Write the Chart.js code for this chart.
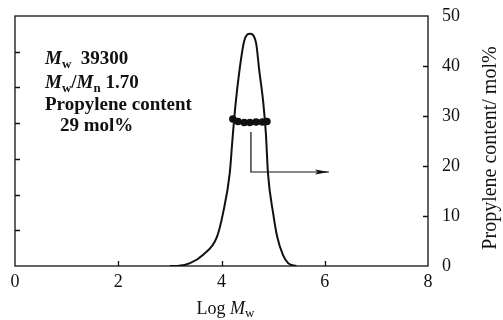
<!DOCTYPE html>
<html>
<head>
<meta charset="utf-8">
<script src="https://cdn.jsdelivr.net/npm/chart.js@4"></script>
<style>
  html, body { margin: 0; padding: 0; background: #fff; }
  #wrap { width: 503px; height: 320px; }
</style>
</head>
<body>
<div id="wrap"><canvas id="gpcChart" width="503" height="320"></canvas></div>
<script>
// GPC curve (log Mw, relative intensity on hidden left axis 0-7)
const logMw = [3.0, 3.14, 3.39, 3.64, 3.91, 4.03, 4.16, 4.21, 4.27, 4.35, 4.44, 4.55, 4.67, 4.73, 4.81, 4.86, 4.90, 5.0, 5.08, 5.19, 5.29, 5.45];
const gpcSignal = [0, 0.0, 0.08, 0.31, 0.81, 1.48, 2.6, 3.5, 4.5, 5.5, 6.3, 6.5, 6.24, 5.49, 4.56, 3.7, 2.6, 1.48, 0.81, 0.31, 0.08, 0];

// propylene content points (right axis, mol%)
const propLogMw = [4.22, 4.32, 4.44, 4.55, 4.67, 4.79, 4.88];
const propContent = [29.4, 28.9, 28.7, 28.7, 28.8, 28.8, 28.9];

// axes
const xTicks = [0, 2, 4, 6, 8];
const rightTicks = [0, 10, 20, 30, 40, 50];
const leftTicks = [0, 1, 2, 3, 4, 5, 6, 7];

// arrow pointing to right axis (log Mw / mol%)
const arrowPath = [[4.57, 26.8], [4.57, 18.8], [6.08, 18.8]];

const INK = '#111';
const SERIF = "'Liberation Serif', 'DejaVu Serif', serif";

function drawRuns(ctx, x, y, runs) {
  let cx = x;
  runs.forEach(r => {
    ctx.font = r.font;
    ctx.fillText(r.text, cx, y + (r.dy || 0));
    cx += ctx.measureText(r.text).width;
  });
  return cx;
}

function runsWidth(ctx, runs) {
  let w = 0;
  runs.forEach(r => { ctx.font = r.font; w += ctx.measureText(r.text).width; });
  return w;
}

const decorPlugin = {
  id: 'decor',
  afterDatasetsDraw(chart) {
    const ctx = chart.ctx;
    const a = chart.chartArea;
    const sx = chart.scales.x, sy = chart.scales.y, sy2 = chart.scales.y2;
    ctx.save();
    ctx.strokeStyle = INK;
    ctx.fillStyle = INK;
    ctx.lineWidth = 1.3;

    // frame
    ctx.strokeRect(a.left, a.top, a.right - a.left, a.bottom - a.top);

    // inward ticks
    ctx.beginPath();
    leftTicks.slice(1, -1).forEach(v => {
      const py = Math.round(sy.getPixelForValue(v)) + 0.5;
      ctx.moveTo(a.left, py); ctx.lineTo(a.left + 5, py);
    });
    xTicks.slice(1, -1).forEach(v => {
      const px = Math.round(sx.getPixelForValue(v)) + 0.5;
      ctx.moveTo(px, a.bottom); ctx.lineTo(px, a.bottom - 5);
    });
    rightTicks.slice(1, -1).forEach(v => {
      const py = Math.round(sy2.getPixelForValue(v)) + 0.5;
      ctx.moveTo(a.right, py); ctx.lineTo(a.right - 5, py);
    });
    ctx.stroke();

    // arrow
    ctx.lineWidth = 1.2;
    ctx.beginPath();
    arrowPath.forEach((p, i) => {
      const px = sx.getPixelForValue(p[0]);
      const py = sy2.getPixelForValue(p[1]);
      if (i === 0) ctx.moveTo(px, py); else ctx.lineTo(px, py);
    });
    ctx.stroke();
    const tip = arrowPath[arrowPath.length - 1];
    const tx = sx.getPixelForValue(tip[0]);
    const ty = sy2.getPixelForValue(tip[1]);
    ctx.beginPath();
    ctx.moveTo(tx, ty);
    ctx.lineTo(tx - 14, ty - 2.5);
    ctx.lineTo(tx - 11, ty);
    ctx.lineTo(tx - 14, ty + 2.5);
    ctx.closePath();
    ctx.fill();

    // annotation text
    ctx.textAlign = 'left';
    ctx.textBaseline = 'alphabetic';
    const big = 'bold 19px ' + SERIF;
    const bigIt = 'italic bold 19px ' + SERIF;
    const sub = 'bold 13px ' + SERIF;
    const tx0 = a.left + 30;
    drawRuns(ctx, tx0, a.top + 48, [
      { text: 'M', font: bigIt }, { text: 'w', font: sub, dy: 4 }, { text: '  39300', font: big }
    ]);
    drawRuns(ctx, tx0, a.top + 72, [
      { text: 'M', font: bigIt }, { text: 'w', font: sub, dy: 4 }, { text: '/', font: big },
      { text: 'M', font: bigIt }, { text: 'n', font: sub, dy: 4 }, { text: ' 1.70', font: big }
    ]);
    drawRuns(ctx, tx0, a.top + 94, [{ text: 'Propylene content', font: big }]);
    drawRuns(ctx, tx0 + 15, a.top + 115, [{ text: '29 mol%', font: big }]);

    // x title
    const xt = [
      { text: 'Log ', font: '18px ' + SERIF },
      { text: 'M', font: 'italic 18px ' + SERIF },
      { text: 'w', font: '13px ' + SERIF, dy: 3 }
    ];
    const xw = runsWidth(ctx, xt);
    drawRuns(ctx, (a.left + a.right) / 2 - xw / 2 + 4, 314, xt);

    // right title, reads bottom to top
    ctx.translate(491, (a.top + a.bottom) / 2 + 7);
    ctx.rotate(-Math.PI / 2);
    ctx.textAlign = 'center';
    ctx.textBaseline = 'middle';
    ctx.font = '20px ' + SERIF;
    ctx.fillText('Propylene content/ mol%', 0, 0);
    ctx.restore();
  }
};

const ctx = document.getElementById('gpcChart').getContext('2d');
new Chart(ctx, {
  type: 'line',
  data: {
    datasets: [
      {
        label: 'GPC',
        data: logMw.map((x, i) => ({ x: x, y: gpcSignal[i] })),
        yAxisID: 'y',
        borderColor: INK,
        borderWidth: 2,
        pointRadius: 0,
        cubicInterpolationMode: 'monotone',
        fill: false
      },
      {
        label: 'Propylene content',
        data: propLogMw.map((x, i) => ({ x: x, y: propContent[i] })),
        yAxisID: 'y2',
        borderColor: INK,
        borderWidth: 2,
        backgroundColor: INK,
        pointRadius: 3.8,
        pointBorderWidth: 0,
        pointBackgroundColor: INK,
        showLine: true
      }
    ]
  },
  options: {
    responsive: false,
    animation: false,
    devicePixelRatio: 1,
    layout: { padding: { left: 15, top: 16, right: 0, bottom: 0 } },
    plugins: {
      legend: { display: false },
      tooltip: { enabled: false }
    },
    scales: {
      x: {
        type: 'linear',
        min: 0,
        max: 8,
        afterBuildTicks: s => { s.ticks = xTicks.map(v => ({ value: v })); },
        ticks: { color: INK, font: { family: SERIF, size: 18 }, padding: 5, maxRotation: 0 },
        grid: { display: false, drawTicks: false },
        border: { display: false },
        afterFit: s => { s.height = 54; }
      },
      y: {
        position: 'left',
        min: 0,
        max: 7,
        display: false
      },
      y2: {
        position: 'right',
        min: 0,
        max: 50,
        afterBuildTicks: s => { s.ticks = rightTicks.map(v => ({ value: v })); },
        ticks: { color: INK, font: { family: SERIF, size: 18 }, padding: 14 },
        grid: { display: false, drawTicks: false },
        border: { display: false },
        afterFit: s => { s.width = 75; s.paddingTop = 0; s.paddingBottom = 0; }
      }
    }
  },
  plugins: [decorPlugin]
});
</script>
</body>
</html>
